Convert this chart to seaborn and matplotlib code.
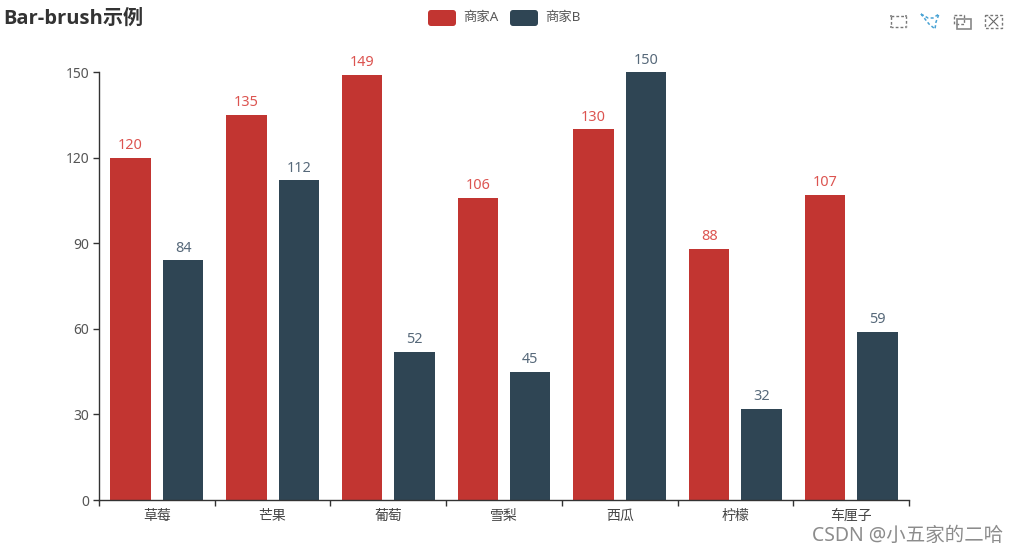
#!/usr/bin/env python3

"""
Bar-brush example: two merchants, seven fruits
"""

import pandas as pd
import matplotlib
matplotlib.use('Agg')
import matplotlib.pyplot as plt
import seaborn as sns
from matplotlib.patches import FancyBboxPatch, Rectangle

fruits = ['草莓', '芒果', '葡萄', '雪梨', '西瓜', '柠檬', '车厘子']
sales_a = [120, 135, 149, 106, 130, 88, 107]
sales_b = [84, 112, 52, 45, 150, 32, 59]
y_ticks = [0, 30, 60, 90, 120, 150]

RED = '#c23531'
NAVY = '#2f4554'
AXIS = '#333333'
W, H = 1019, 554

sns.set_theme(style='white')
plt.rcParams['font.family'] = ['Noto Sans', 'Noto Sans CJK SC', 'DejaVu Sans']

df = pd.DataFrame({
    'fruit': fruits * 2,
    'sales': sales_a + sales_b,
    'merchant': ['商家A'] * len(fruits) + ['商家B'] * len(fruits),
})

fig = plt.figure(figsize=(W / 100, H / 100), dpi=100)
ax = fig.add_axes([99 / W, 1 - 500 / H, 810 / W, 428 / H])

sns.barplot(data=df, x='fruit', y='sales', hue='merchant', order=fruits,
            palette=[RED, NAVY], width=0.907, gap=0.23, saturation=1,
            legend=False, errorbar=None, linewidth=0, ax=ax)

# value labels above the bars
for container, color in zip(ax.containers, ['#dc5450', '#57697a']):
    ax.bar_label(container, padding=3.2, color=color, fontsize=10.4)

ax.set_xlim(-0.5, len(fruits) - 0.5)
ax.set_ylim(0, 150)
ax.set_yticks(y_ticks)
ax.set_xlabel('')
ax.set_ylabel('')

# ticks sit on category boundaries, labels in the middle
ax.set_xticks([i - 0.5 for i in range(len(fruits) + 1)])
ax.set_xticklabels([])
ax.set_xticks(range(len(fruits)), minor=True)
ax.set_xticklabels(fruits, minor=True)
ax.tick_params(axis='x', which='major', length=4, width=1, color=AXIS, bottom=True)
ax.tick_params(axis='x', which='minor', length=0, pad=6.5, labelsize=10, labelcolor='#444444')
ax.tick_params(axis='y', length=4, width=1, color=AXIS, left=True, pad=3,
               labelsize=10, labelcolor='#555555')
for side in ['top', 'right']:
    ax.spines[side].set_visible(False)
for side in ['left', 'bottom']:
    ax.spines[side].set_color(AXIS)
    ax.spines[side].set_linewidth(1)

# overlay in pixel coordinates for title, legend, toolbox and watermark
ov = fig.add_axes([0, 0, 1, 1], facecolor='none')
ov.set_xlim(0, W)
ov.set_ylim(H, 0)
ov.axis('off')

ov.text(3, 19, 'Bar-brush示例', fontsize=14.5, fontweight='bold', color='#333333',
        family=['Open Sans', 'Noto Sans CJK SC'], ha='left', va='center')

for x0, color, label in [(428, RED, '商家A'), (510, NAVY, '商家B')]:
    ov.add_patch(FancyBboxPatch((x0 + 3, 13), 22, 10, boxstyle='round,pad=3,rounding_size=3',
                                fc=color, ec='none'))
    ov.text(x0 + 35, 17.5, label, fontsize=9.6, color='#555555', ha='left', va='center')

# toolbox icons
icon = dict(color='#777777', lw=1, ls=(0, (2, 1.5)))
ov.add_patch(Rectangle((891, 16), 15, 11, fill=False, **icon))
for cx, cy in [(891, 16), (906, 16), (891, 27), (906, 27)]:
    ov.add_patch(Rectangle((cx - 1, cy - 1), 2, 2, color='#999999', lw=0))
ov.plot([921, 928, 933, 939, 936, 935, 929, 921], [14, 18, 18, 14, 22, 29, 24, 14],
        color='#4aa3d4', lw=1.1, ls=(0, (2, 1.5)))
ov.add_patch(Rectangle((954, 15), 10, 9, fill=False, **icon))
ov.add_patch(Rectangle((957, 19), 14, 10, fill=False, color='#888888', lw=1.2))
ov.add_patch(Rectangle((985, 15), 17, 13, fill=False, **icon))
ov.plot([989, 998], [17, 26], color='#666666', lw=0.8)
ov.plot([989, 998], [26, 17], color='#666666', lw=0.8)

ov.text(1003, 536, 'CSDN @小五家的二哈', fontsize=14, color='#8c8c8c',
        ha='right', va='center')

fig.savefig('out.png', dpi=100, facecolor='white')
